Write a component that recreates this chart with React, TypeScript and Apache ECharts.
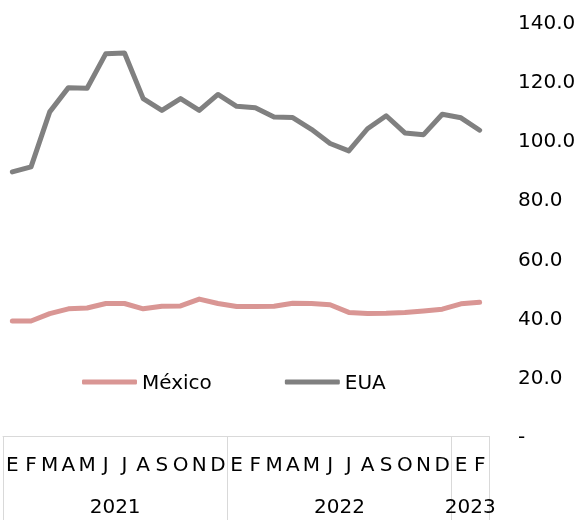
import React, { useEffect, useRef } from "react";
import * as echarts from "echarts";

const months = ["E","F","M","A","M","J","J","A","S","O","N","D","E","F","M","A","M","J","J","A","S","O","N","D","E","F"];
const yearBoundaryLabels = ["","","","","","","2021","","","","","","","","","","","","2022","","","","","","","2023",""];
const yearBoundaryTicks = [0, 12, 24, 26];
const mexico = [38.9,38.9,41.4,43.0,43.3,44.8,44.8,43.0,43.9,44.0,46.3,44.8,43.8,43.8,43.9,44.9,44.8,44.4,41.8,41.4,41.5,41.8,42.3,42.9,44.7,45.2];
const eua = [89.3,91.0,109.6,117.8,117.6,129.3,129.5,114.1,110.1,114.1,110.1,115.5,111.5,111.0,107.9,107.7,103.7,98.9,96.4,103.9,108.3,102.5,101.9,108.8,107.6,103.4];

const FONT = "DejaVu Sans";

export default function App() {
  const ref = useRef<HTMLDivElement>(null);
  useEffect(() => {
    const chart = echarts.init(ref.current!, null, { renderer: "svg" });
    chart.setOption({
      animation: false,
      textStyle: { fontFamily: FONT },
      grid: { left: 2, right: 91, top: 22, bottom: 84, containLabel: false },
      legend: {
        left: 82,
        top: 372,
        padding: 0,
        itemGap: 73,
        itemWidth: 55,
        itemHeight: 5,
        textStyle: { fontSize: 20, color: "#000", fontFamily: FONT },
        data: [
          { name: "México", icon: "roundRect" },
          { name: "EUA", icon: "roundRect" },
        ],
      },
      xAxis: [
        {
          type: "category",
          data: months,
          boundaryGap: true,
          position: "bottom",
          axisLine: { show: true, lineStyle: { color: "#d9d9d9", width: 1 } },
          axisTick: { show: false },
          axisLabel: { interval: 0, fontSize: 20, color: "#000", margin: 18, fontFamily: FONT },
        },
        {
          type: "category",
          data: yearBoundaryLabels,
          boundaryGap: false,
          position: "bottom",
          axisLine: { show: false },
          axisTick: {
            show: true,
            length: 90,
            interval: (i: number) => yearBoundaryTicks.includes(i),
            lineStyle: { color: "#d9d9d9", width: 1 },
          },
          axisLabel: { interval: 0, fontSize: 20, color: "#000", margin: 60, fontFamily: FONT },
        },
      ],
      yAxis: {
        type: "value",
        position: "right",
        min: 0,
        max: 140,
        interval: 20,
        axisLine: { show: false },
        axisTick: { show: false },
        splitLine: { show: false },
        axisLabel: {
          fontSize: 20,
          color: "#000",
          margin: 29,
          fontFamily: FONT,
          formatter: (v: number) => (v === 0 ? "-" : v.toFixed(1)),
        },
      },
      series: [
        {
          name: "México",
          type: "line",
          data: mexico,
          showSymbol: false,
          symbol: "none",
          itemStyle: { color: "#d99694" },
          lineStyle: { color: "#d99694", width: 5, cap: "round", join: "round" },
        },
        {
          name: "EUA",
          type: "line",
          data: eua,
          showSymbol: false,
          symbol: "none",
          itemStyle: { color: "#808080" },
          lineStyle: { color: "#808080", width: 5, cap: "round", join: "round" },
        },
      ],
    });
    return () => chart.dispose();
  }, []);
  return <div ref={ref} style={{ position: "fixed", left: 0, top: 0, width: 580, height: 520 }} />;
}
